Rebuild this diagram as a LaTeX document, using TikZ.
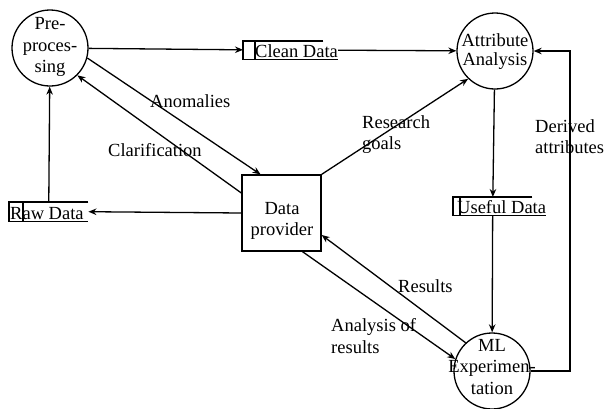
\documentclass[tikz,border=0pt]{standalone}
\usepackage{fontspec}
\setmainfont{Liberation Serif}
\usetikzlibrary{arrows.meta}
\tikzset{
  every node/.style={font=\fontsize{18.5}{21.5}\selectfont, inner sep=0pt},
  proc/.style={draw, circle, minimum size=76pt, line width=1.3pt},
  ent/.style={draw, rectangle, minimum width=79pt, minimum height=76pt, line width=1.3pt},
  arr/.style={line width=1.3pt, -{Stealth[length=8pt,width=6.5pt]}},
  flowlbl/.style={align=left},
  ctext/.style={align=center},
  storeline/.style={line width=1.3pt},
}
\newcommand\dstore[8]{%
  \node[minimum width=#4pt, minimum height=#5pt, anchor=north west] (#1) at (#2,#3) {};
  \node[anchor=base west] (#1lbl) at ([xshift=#7pt, yshift=1.5pt]#1.south west) {#8};
  \draw[storeline] (#1.north east) -- (#1.north west) -- (#1.south west) -- (#1.south east)
    (#1.south west) -- (#1.south west -| #1lbl.east)
    ([xshift=#6pt]#1.north west) -- ([xshift=#6pt]#1.south west);
}
\begin{document}
\begin{tikzpicture}[x=1pt,y=-1pt]
\useasboundingbox (0,0) rectangle (605,408);

% processes
\node[proc] (pre) at (50,48) {};
\node[ctext] (pretxt) at (50,47) {Pre-\\proces-\\sing};
\node[proc] (attr) at (495,51) {};
\node[ctext, font=\fontsize{18.5}{19}\selectfont] (attrtxt) at (495,52) {Attribute\\Analysis};
\node[proc] (ml) at (492,371) {};
\node[ctext] (mltxt) at (492,367) {ML\\Experimen-\\tation};

% external entity
\node[ent] (dp) at (281.5,213) {};
\node[ctext] (dptxt) at (282,221) {Data\\provider};

% data stores
\dstore{raw}{9}{202}{79}{19}{14}{1}{Raw Data}
\dstore{clean}{243}{41}{80}{18}{12}{12}{Clean Data}
\dstore{useful}{453}{197}{79}{18}{7}{4}{Useful Data}

% flows
\draw[arr] (pre) -- (clean);
\draw[arr] (clean.east -| cleanlbl.east) -- (attr);
\draw[arr] (attr) -- (useful);
\draw[arr] (useful) -- (ml);
\coordinate (dr) at (570,371);
\draw[arr] (ml.east) -- (dr) |- (attr.east);
\draw[arr] (raw) -- (pre);
\draw[arr] (dp.west) -- (raw.east);
\draw[arr] (pre.-15) -- ([xshift=-21pt]dp.north);
\draw[arr] ([yshift=20pt]dp.west) -- (pre.-45);
\draw[arr] (dp.north east) -- (attr.-134);
\draw[arr] (ml.133) -- ([yshift=-22pt]dp.east);
\draw[arr] ([xshift=21pt]dp.south) -- (ml.162);

% flow labels
\node[anchor=base west] (lanom) at (150,107) {Anomalies};
\node[anchor=base west] (lclar) at (108,156) {Clarification};
\node[flowlbl, anchor=north west] (lres) at (362,115.4) {Research\\goals};
\node[anchor=base west] (lresults) at (398,292) {Results};
\node[flowlbl, anchor=north west] (lanal) at (331,318.4) {Analysis of\\results};
\node[flowlbl, anchor=north west] (lder) at (535,119.4) {Derived\\attributes};
\end{tikzpicture}
\end{document}
